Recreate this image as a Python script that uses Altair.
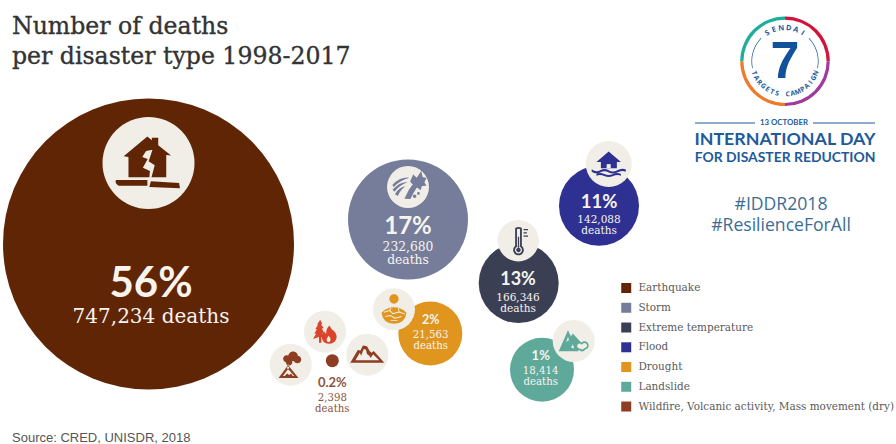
import math
import re

import altair as alt
import pandas as pd

# Disaster totals, 1998-2017
categories = ["Earthquake", "Storm", "Extreme temperature", "Flood", "Drought", "Landslide",
              "Wildfire, Volcanic activity, Mass movement (dry)"]
shares = ["56%", "17%", "13%", "11%", "2%", "1%", "0.2%"]
deaths = [747234, 232680, 166346, 142088, 21563, 18414, 2398]
palette = ["#5f2505", "#767d9b", "#3b3f53", "#2e3192", "#e0951e", "#5fa99b", "#8e3d22"]

# Bubble centres on the page grid
bubble_x = [148.5, 408, 518.7, 599, 430.3, 542, 332.3]
bubble_y = [244, 219.5, 283, 205.7, 333.5, 369.7, 360.7]

# Deaths to bubble area: the sizes are stepped by hand, not proportional
size_domain = [2398, 18414, 21563, 142088, 166346, 232680, 747234]
size_range = [169, 4096, 4096, 6400, 6400, 14400, 84681]

CREAM = "#f0eee6"
BLUE = "#1d5a9b"
SERIF = "DejaVu Serif"
SANS = "Open Sans"
HEAVY = "Lato"

X = alt.X("x:Q", scale=alt.Scale(domain=[0, 896], range=[0, 896]), axis=None)
Y = alt.Y("y:Q", scale=alt.Scale(domain=[444, 0]), axis=None)


def unit(path):
    """Scale a path drawn on a -100..100 grid to the symbol unit box."""
    return re.sub(r"-?\d+\.?\d*", lambda m: f"{float(m.group()) / 100:.3f}", path)


def disc(cx, cy, r):
    k = r * 0.5523
    return (f"M{cx - r},{cy} C{cx - r},{cy - k} {cx - k},{cy - r} {cx},{cy - r} "
            f"C{cx + k},{cy - r} {cx + r},{cy - k} {cx + r},{cy} "
            f"C{cx + r},{cy + k} {cx + k},{cy + r} {cx},{cy + r} "
            f"C{cx - k},{cy + r} {cx - r},{cy + k} {cx - r},{cy} Z ")


def bar(x1, y1, x2, y2, w):
    """Thin filled segment, used for cracks and ticks."""
    dx, dy = x2 - x1, y2 - y1
    n = math.hypot(dx, dy) or 1
    ox, oy = -dy / n * w / 2, dx / n * w / 2
    return (f"M{x1 + ox:.1f},{y1 + oy:.1f} L{x2 + ox:.1f},{y2 + oy:.1f} "
            f"L{x2 - ox:.1f},{y2 - oy:.1f} L{x1 - ox:.1f},{y1 - oy:.1f} Z ")


QUAKE, STORM, TEMP, FLOOD, DROUGHT, SLIDE, FIRE = palette[0], palette[1], palette[2], palette[3], palette[4], palette[5], "#d9442b"
VOLC = palette[6]

icons = [
    # earthquake: split house on a broken slab
    (148, 162, 64, [
        (QUAKE, "M-2,-80 L12,-68 L12,-76 L32,-76 L32,-52 L72,-20 L57,-22 L57,48 L-61,48 L-61,-16 L-76,-18 Z "
                "M-100,56 L-2,56 L-2,74 L-92,74 Q-105,65 -100,56 Z "
                "M9,60 L97,66 L100,82 L4,78 Z"),
        (CREAM, "M-6,-34 L14,-38 L2,-2 L21,10 L1,84 L6,28 L-16,18 L-1,-9 L-18,-16 Z"),
    ]),
    # storm: wind gusts and a bent tree
    (409, 187.5, 35, [
        (STORM, "M-95,-15 Q-50,-62 2,-56 Q-50,-42 -88,-3 Z "
                "M-94,12 Q-50,-36 -8,-30 Q-50,-16 -84,24 Z "
                "M-80,38 Q-55,-6 -20,-6 Q-46,8 -64,48 Z "
                "M-26,64 L0,12 L26,-24 L50,-8 L24,34 L8,66 Z "
                "M6,-34 L24,-74 L44,-56 L70,-94 L78,-60 L100,-54 L88,-30 L100,-10 L74,-8 L66,16 L44,-2 L28,-8 Z "
                + disc(32, 50, 10) + disc(54, 34, 8)),
    ]),
    # extreme temperature: thermometer outline
    (518.5, 241, 28, [
        (TEMP, "M-24,-86 Q-24,-100 0,-100 Q24,-100 24,-86 L24,36 L-24,36 Z " + disc(0, 64, 38)
               + bar(36, -82, 68, -82, 9) + bar(36, -58, 60, -58, 9) + bar(36, -34, 68, -34, 9)),
        (CREAM, "M-11,-84 Q-11,-88 0,-88 Q11,-88 11,-84 L11,40 L-11,40 Z " + disc(0, 64, 25)),
        (TEMP, bar(0, -30, 0, 50, 9) + disc(0, 64, 16)),
    ]),
    # flood: house on stilts above waves
    (608.7, 164.5, 34, [
        (FLOOD, "M0,-76 L72,-14 L48,-14 L48,22 L-46,22 L-46,-14 L-72,-14 Z "
                "M-100,28 Q-75,48 -50,34 Q-25,20 0,34 Q25,48 50,34 Q75,20 100,28 L100,42 Q75,32 50,47 "
                "Q25,60 0,47 Q-25,32 -50,47 Q-75,60 -100,42 Z "
                "M-72,56 Q-50,44 -26,56 Q0,68 26,56 Q50,44 72,56 L72,66 Q50,56 26,68 Q0,80 -26,68 Q-50,56 -72,66 Z"),
        (CREAM, "M-12,-2 L12,-2 L12,22 L-12,22 Z"),
    ]),
    # drought: sun over cracked earth
    (394, 309.3, 29, [
        (DROUGHT, disc(0, -71, 32) + "M-86,24 Q-50,-14 0,-14 Q50,-14 86,24 Q78,98 0,100 Q-78,98 -86,24 Z"),
        (CREAM, bar(-70, 20, -30, 8, 7) + bar(-30, 8, -8, 30, 7) + bar(-8, 30, 36, 18, 7)
                + bar(36, 18, 74, 32, 7) + bar(-60, 50, -24, 42, 7) + bar(-24, 42, 6, 62, 7)
                + bar(6, 62, 52, 50, 7) + bar(-30, 8, -22, -10, 6) + bar(36, 18, 30, -8, 6)
                + bar(-24, 76, 24, 76, 6)),
    ]),
    # landslide: peaks with a rolling debris cloud
    (573.7, 341, 30, [
        (SLIDE, "M-100,68 L-38,-72 L-18,-30 L-6,-50 L48,8 L30,68 Z "
                + disc(40, 34, 28) + disc(72, 30, 28) + disc(56, 48, 22)),
        (CREAM, "M-38,-30 L-50,8 L-34,-6 L-26,14 Z " + disc(40, 34, 17) + disc(72, 30, 17) + disc(56, 42, 15)
                + "M-18,44 L-6,22 L4,50 Z"),
    ]),
    # wildfire: fir tree and flame
    (325, 331.7, 24, [
        (FIRE, "M-40,-100 L-22,-62 L-34,-62 L-10,-28 L-26,-28 L-8,12 L-24,12 L-6,50 L-30,44 L-30,92 L-50,92 L-50,44 "
               "L-100,60 L-74,18 L-88,16 L-68,-20 L-80,-22 L-58,-58 L-66,-60 Z "
               "M38,-52 Q52,-18 74,-6 Q100,18 96,52 Q84,100 30,100 Q-22,96 -26,48 Q-26,16 -4,-4 Q-2,14 10,18 Q6,-24 38,-52 Z"),
        (CREAM, "M30,34 Q48,50 46,72 Q40,88 28,88 Q12,84 14,66 Q16,50 30,34 Z"),
    ]),
    # volcanic activity: cone under a smoke plume
    (290.7, 364.7, 27, [
        (VOLC, disc(18, -62, 36) + disc(-30, -44, 26) + disc(50, -38, 28) + disc(-12, -18, 24)
               + bar(-18, 0, -20, 30, 14) + "M-90,98 L-28,16 L-10,16 L58,98 Z"),
        (CREAM, "M-58,84 L-24,38 L-14,38 L26,84 Z"),
        (VOLC, "M-44,84 L-26,66 L-12,76 L4,66 L14,84 Z"),
    ]),
    # mass movement: snow-capped ridge
    (367.3, 354.7, 34, [
        (VOLC, "M-100,48 L-56,-28 L-40,-24 L-26,-54 L-2,-50 L14,-22 L24,-12 L38,-22 L100,48 Z"),
        (CREAM, "M-70,32 L-44,-12 L-36,6 L-22,-32 L-8,-30 L-2,-4 L12,6 L20,20 L34,-2 L70,32 Z"),
    ]),
]

# Cream discs behind the icons: one per icon, in the same order
icon_disc_r = [46, 21, 20.7, 23, 21, 21, 21, 21, 21]

# ---- Bubbles and legend
bubbles = alt.Chart(pd.DataFrame({"x": bubble_x, "y": bubble_y, "cat": categories, "deaths": deaths})).mark_circle(
    opacity=1
).encode(
    x=X,
    y=Y,
    size=alt.Size("deaths:Q", scale=alt.Scale(type="linear", domain=size_domain, range=size_range), legend=None),
    color=alt.Color(
        "cat:N",
        scale=alt.Scale(domain=categories, range=palette),
        legend=alt.Legend(
            orient="none", legendX=621, legendY=282.8, title=None, symbolType="square", symbolSize=100,
            symbolStrokeWidth=0, labelFont=SERIF, labelFontSize=10.45, labelColor="#5a5a5a", labelLimit=320,
            labelOffset=7, rowPadding=8.75, padding=0,
        ),
    ),
)


def text_layer(rows, font, size, color, weight="normal", align="center", baseline="middle", angle=None, **extra):
    kw = dict(extra)
    if angle is not None:
        kw["angle"] = angle
    return alt.Chart(pd.DataFrame(rows, columns=["x", "y", "t"])).mark_text(
        font=font, fontSize=size, color=color, fontWeight=weight, align=align, baseline=baseline, **kw
    ).encode(x=X, y=Y, text="t:N")


layers = [bubbles]

# Cream icon discs
disc_df = pd.DataFrame({"x": [i[0] for i in icons], "y": [i[1] for i in icons],
                        "d": [2 * r for r in icon_disc_r]})
disc_df.loc[0, ["x", "y"]] = [148.5, 163]
disc_df.loc[1, ["x", "y"]] = [408, 187]
disc_df.loc[2, ["x", "y"]] = [518.3, 240.7]
disc_df.loc[3, ["x", "y"]] = [608.7, 164]
disc_df["s"] = disc_df["d"] ** 2
layers.append(alt.Chart(disc_df).mark_circle(opacity=1, color=CREAM).encode(
    x=X, y=Y, size=alt.Size("s:Q", scale=None)))

# Icon artwork
for cx, cy, box, parts in icons:
    for colour, path in parts:
        layers.append(alt.Chart(pd.DataFrame({"x": [cx], "y": [cy]})).mark_point(
            shape=unit(path), filled=True, size=box * box, color=colour, opacity=1, strokeWidth=0
        ).encode(x=X, y=Y))

# Bubble labels
WHITE = "#f7f4ee"
label_specs = [
    (151, 284, 317, None, 42, 20, WHITE, f"{deaths[0]:,} deaths"),
    (408, 226.7, 246.7, 259.5, 24, 12.3, WHITE, None),
    (518, 280, 297.7, 308.7, 18, 10.5, WHITE, None),
    (599, 202, 220, 231, 18.5, 10.5, WHITE, None),
    (430.7, 320, 335, 346, 12.5, 10.2, WHITE, None),
    (540.7, 356, 370.7, 381.7, 13, 10.2, WHITE, None),
    (332.3, 382.7, 397.7, 409, 13, 10.2, "#8e5540", None),
]
for i, (lx, y1, y2, y3, big, small, col, single) in enumerate(label_specs):
    layers.append(text_layer([(lx, y1, shares[i])], HEAVY, big, col, weight="bold"))
    if single:
        layers.append(text_layer([(lx, y2, single)], SERIF, small, col))
    else:
        layers.append(text_layer([(lx, y2, f"{deaths[i]:,}"), (lx, y3, "deaths")], SERIF, small, col))

# Heading and source line
layers.append(text_layer([(12, 27, "Number of deaths"), (12, 57, "per disaster type 1998-2017")],
                         SERIF, 23.6, "#333333", align="left", stroke="#333333", strokeWidth=0.35))
layers.append(text_layer([(12, 438, "Source: CRED, UNISDR, 2018")], "Liberation Sans", 13, "#555555", align="left"))

# Campaign badge: four-colour ring
ring = [("#1fae9b", 270, 360), ("#d0143c", 0, 90), ("#a03a9e", 90, 180), ("#f07a2c", 180, 270)]
for colour, a0, a1 in ring:
    layers.append(alt.Chart(pd.DataFrame({"x": [785], "y": [61.3]})).mark_arc(
        color=colour, theta=math.radians(a0), theta2=math.radians(a1), radius=44.8, radius2=41.6
    ).encode(x=X, y=Y))
for a0, a1 in [(258, 314), (46, 102)]:
    layers.append(alt.Chart(pd.DataFrame({"x": [785], "y": [61.3]})).mark_arc(
        color=BLUE, theta=math.radians(a0), theta2=math.radians(a1), radius=33.6, radius2=32.9
    ).encode(x=X, y=Y))

layers.append(text_layer([(785, 62, "7")], "Liberation Sans", 52, "#12519c", weight="bold"))

for word, start, step, bottom in [("SENDAI", -32, 12.8, False), ("TARGETS CAMPAIGN", 69, -9.2, True)]:
    for k, ch in enumerate(word):
        a = start + k * step
        ang = math.radians(a)
        lx = 785 + 33.2 * math.sin(ang)
        ly = 61.3 + (33.2 * math.cos(ang) if bottom else -33.2 * math.cos(ang))
        if bottom:
            lx = 785 - 33.2 * math.sin(ang)
        layers.append(text_layer([(lx, ly, ch)], SANS, 7.4 if not bottom else 6.8, BLUE, weight="bold", angle=a % 360))

# Day banner
rule_df = pd.DataFrame({"x": [695, 813], "x2": [755, 875], "y": [123, 123]})
layers.append(alt.Chart(rule_df).mark_rule(color=BLUE, strokeWidth=1).encode(x=X, x2="x2:Q", y=Y))
layers.append(text_layer([(784, 123, "13 OCTOBER")], "Lato", 7.8, BLUE, weight="bold"))
layers.append(text_layer([(785, 140, "INTERNATIONAL DAY")], "Lato", 17.8, BLUE, weight="bold"))
layers.append(text_layer([(785, 158, "FOR DISASTER REDUCTION")], "Lato", 13.9, BLUE, weight="bold"))
layers.append(text_layer([(781, 204.5, "#IDDR2018"), (781, 225.5, "#ResilienceForAll")], SANS, 17.6, "#3c6d92"))

chart = alt.layer(*layers).properties(
    width=896, height=444, padding=0, autosize=alt.AutoSizeParams(type="none"), background="white"
).configure_view(stroke=None)

chart.save("out.html", embed_options={"renderer": "svg", "actions": False})
